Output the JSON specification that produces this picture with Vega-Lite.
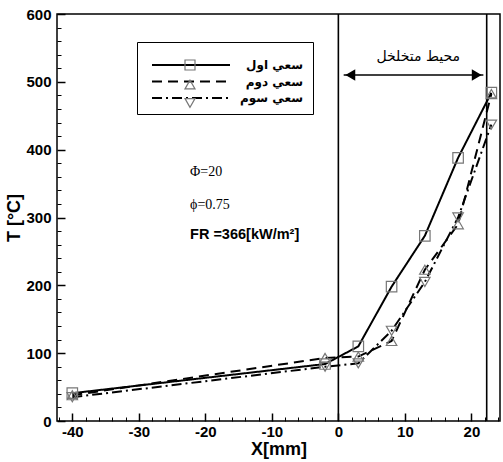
{
  "$schema": "https://vega.github.io/schema/vega-lite/v6.json",
  "width": 443,
  "height": 407,
  "autosize": "none",
  "padding": {"left": 57, "top": 14, "right": 3, "bottom": 41},
  "config": {
    "view": {"stroke": "black", "strokeWidth": 1.5},
    "font": "Liberation Sans"
  },
  "datasets": {
    "series": [
      {"s": "سعي اول", "x": -40, "t": 41},
      {"s": "سعي اول", "x": -2, "t": 84},
      {"s": "سعي اول", "x": 3, "t": 110},
      {"s": "سعي اول", "x": 8, "t": 198},
      {"s": "سعي اول", "x": 13, "t": 273},
      {"s": "سعي اول", "x": 18, "t": 388},
      {"s": "سعي اول", "x": 23, "t": 484},
      {"s": "سعي دوم", "x": -40, "t": 38},
      {"s": "سعي دوم", "x": -2, "t": 93},
      {"s": "سعي دوم", "x": 3, "t": 95},
      {"s": "سعي دوم", "x": 8, "t": 118},
      {"s": "سعي دوم", "x": 13, "t": 223},
      {"s": "سعي دوم", "x": 18, "t": 290},
      {"s": "سعي دوم", "x": 23, "t": 482},
      {"s": "سعي سوم", "x": -40, "t": 35},
      {"s": "سعي سوم", "x": -2, "t": 80},
      {"s": "سعي سوم", "x": 3, "t": 85},
      {"s": "سعي سوم", "x": 8, "t": 133},
      {"s": "سعي سوم", "x": 13, "t": 205},
      {"s": "سعي سوم", "x": 18, "t": 300},
      {"s": "سعي سوم", "x": 23, "t": 437}
    ],
    "vlines": [{"x": 0}, {"x": 22.3}],
    "arrow": [{"x": 0.8, "x2": 21.8, "t": 510}],
    "heads": [{"x": 1.8, "t": 510, "dir": "left"}, {"x": 20.8, "t": 510, "dir": "right"}],
    "zone": [{"x": 12, "t": 536, "label": "محيط متخلخل"}],
    "serifNotes": [
      {"x": -22.3, "t": 367, "label": "Φ=20"},
      {"x": -22.3, "t": 319, "label": "ϕ=0.75"}
    ],
    "boldNotes": [{"x": -22.3, "t": 274, "label": "FR =366[kW/m²]"}]
  },
  "resolve": {"axis": {"x": "independent", "y": "independent"}},
  "layer": [
    {
      "data": {"name": "vlines"},
      "mark": {"type": "rule", "color": "black", "strokeWidth": 1.6},
      "encoding": {
        "x": {"field": "x", "type": "quantitative", "scale": {"domain": [-42.3, 24.3], "nice": false, "zero": false}, "axis": null}
      }
    },
    {
      "data": {"name": "arrow"},
      "mark": {"type": "rule", "color": "black", "strokeWidth": 1.6},
      "encoding": {
        "x": {"field": "x", "type": "quantitative",
          "axis": {"orient": "bottom", "values": [-42, -38, -36, -34, -32, -28, -26, -24, -22, -18, -16, -14, -12, -8, -6, -4, -2, 2, 4, 6, 8, 12, 14, 16, 18, 22, 24],
            "labels": false, "domain": false, "grid": false, "title": null, "offset": -4, "tickSize": 4, "tickColor": "black", "tickWidth": 1}},
        "x2": {"field": "x2"},
        "y": {"field": "t", "type": "quantitative",
          "axis": {"orient": "left", "values": [20, 40, 60, 80, 120, 140, 160, 180, 220, 240, 260, 280, 320, 340, 360, 380, 420, 440, 460, 480, 520, 540, 560, 580],
            "labels": false, "domain": false, "grid": false, "title": null, "offset": -4, "tickSize": 4, "tickColor": "black", "tickWidth": 1}}
      }
    },
    {
      "data": {"name": "heads"},
      "transform": [{"filter": "datum.dir == 'left'"}],
      "mark": {"type": "point", "shape": "triangle-left", "filled": true, "color": "black", "size": 130, "opacity": 1},
      "encoding": {
        "x": {"field": "x", "type": "quantitative", "axis": null},
        "y": {"field": "t", "type": "quantitative", "axis": null}
      }
    },
    {
      "data": {"name": "heads"},
      "transform": [{"filter": "datum.dir == 'right'"}],
      "mark": {"type": "point", "shape": "triangle-right", "filled": true, "color": "black", "size": 130, "opacity": 1},
      "encoding": {
        "x": {"field": "x", "type": "quantitative", "axis": null},
        "y": {"field": "t", "type": "quantitative", "axis": null}
      }
    },
    {
      "data": {"name": "zone"},
      "mark": {"type": "text", "font": "DejaVu Sans", "fontSize": 14, "color": "black", "align": "center", "baseline": "middle"},
      "encoding": {
        "x": {"field": "x", "type": "quantitative", "axis": null},
        "y": {"field": "t", "type": "quantitative", "axis": null},
        "text": {"field": "label"}
      }
    },
    {
      "data": {"name": "serifNotes"},
      "mark": {"type": "text", "font": "Liberation Serif", "fontSize": 14, "color": "black", "align": "left", "baseline": "middle"},
      "encoding": {
        "x": {"field": "x", "type": "quantitative", "axis": null},
        "y": {"field": "t", "type": "quantitative", "axis": null},
        "text": {"field": "label"}
      }
    },
    {
      "data": {"name": "boldNotes"},
      "mark": {"type": "text", "font": "Liberation Sans", "fontSize": 14.5, "fontWeight": "bold", "color": "black", "align": "left", "baseline": "middle"},
      "encoding": {
        "x": {"field": "x", "type": "quantitative", "axis": null},
        "y": {"field": "t", "type": "quantitative", "axis": null},
        "text": {"field": "label"}
      }
    },
    {
      "data": {"name": "series"},
      "mark": {"type": "line", "color": "black", "strokeWidth": 2},
      "encoding": {
        "x": {"field": "x", "type": "quantitative",
          "axis": {"orient": "bottom", "values": [-40, -30, -20, -10, 0, 10, 20], "title": "X[mm]", "grid": false, "domain": false,
            "offset": -8, "tickSize": 8, "tickWidth": 1.5, "tickColor": "black", "labelPadding": 3,
            "labelExpr": "'' + datum.value", "labelFont": "Liberation Sans", "labelFontWeight": "bold", "labelFontSize": 15, "labelColor": "black",
            "titleFont": "Liberation Sans", "titleFontWeight": "bold", "titleFontSize": 18, "titleColor": "black", "titlePadding": 1}},
        "y": {"field": "t", "type": "quantitative",
          "scale": {"domain": [0, 600], "nice": false},
          "axis": {"orient": "left", "values": [0, 100, 200, 300, 400, 500, 600], "title": "T [°C]", "grid": false, "domain": false,
            "offset": -8, "tickSize": 8, "tickWidth": 1.5, "tickColor": "black", "labelPadding": 6,
            "labelFont": "Liberation Sans", "labelFontWeight": "bold", "labelFontSize": 15, "labelColor": "black",
            "titleFont": "Liberation Sans", "titleFontWeight": "bold", "titleFontSize": 18, "titleColor": "black", "titlePadding": 2}},
        "strokeDash": {"field": "s", "type": "nominal",
          "scale": {"domain": ["سعي اول", "سعي دوم", "سعي سوم"], "range": [[1, 0], [10, 6], [10, 4, 2, 4]]},
          "legend": {"orient": "none", "legendX": 80, "legendY": 28, "title": " ", "titleFontSize": 5, "titlePadding": 2,
            "padding": 10, "strokeColor": "black", "fillColor": "white",
            "symbolType": "M-7.8,0H7.8", "symbolSize": 100, "symbolStrokeWidth": 2, "symbolStrokeColor": "black",
            "symbolOffset": 38, "labelOffset": 106, "labelAlign": "right", "rowPadding": 4.5,
            "labelFont": "DejaVu Sans", "labelFontSize": 12, "labelFontWeight": "bold", "labelColor": "black"}}
      }
    },
    {
      "data": {"name": "series"},
      "mark": {"type": "point", "filled": false, "color": "#777777", "strokeWidth": 1.2, "size": 110, "opacity": 1},
      "encoding": {
        "x": {"field": "x", "type": "quantitative", "axis": null},
        "y": {"field": "t", "type": "quantitative", "axis": null},
        "shape": {"field": "s", "type": "nominal",
          "scale": {"range": ["square", "triangle-up", "triangle-down"]},
          "legend": {"orient": "none", "legendX": 127, "legendY": 45, "title": null, "padding": 0,
            "symbolSize": 100, "symbolStrokeColor": "#777777", "symbolStrokeWidth": 1.2, "symbolFillColor": "transparent",
            "rowPadding": 4.5, "labelExpr": "''", "labelFontSize": 12, "labelOffset": 0}}
      }
    }
  ]
}
